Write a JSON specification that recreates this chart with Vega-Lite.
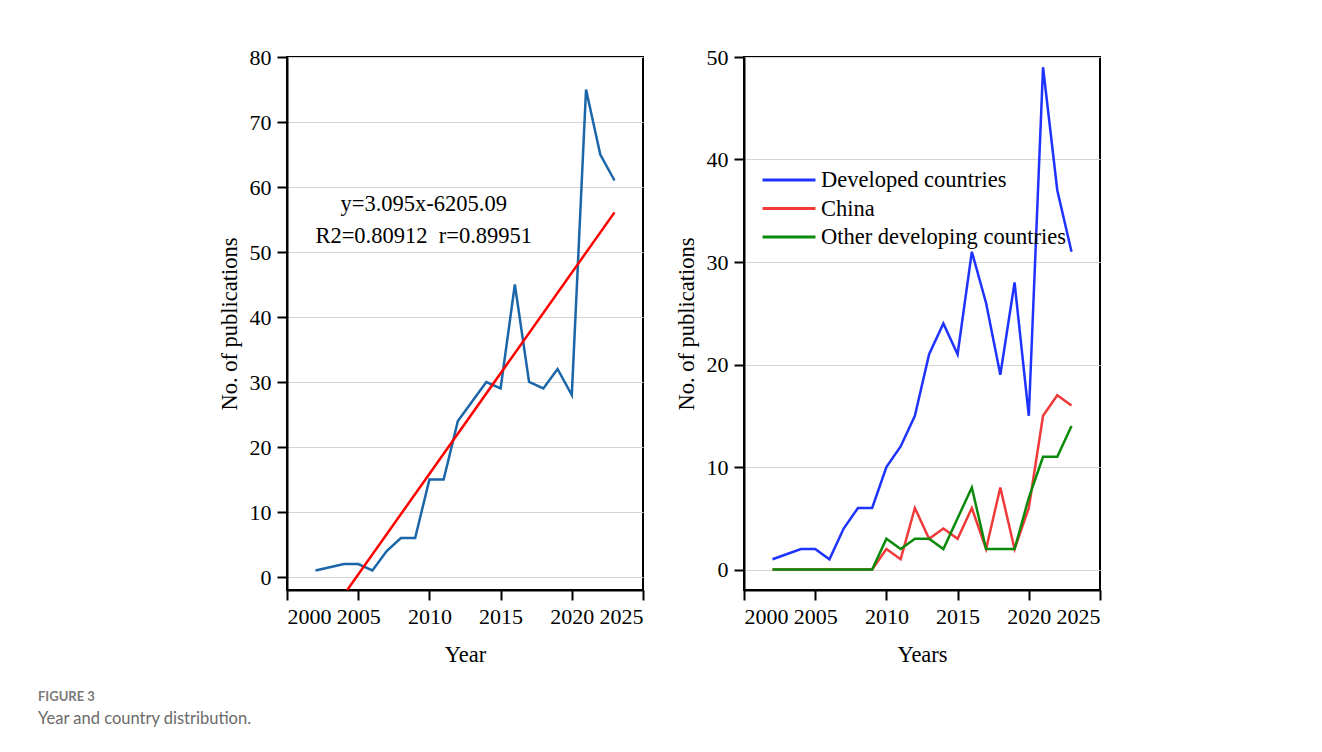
{
  "$schema": "https://vega.github.io/schema/vega-lite/v6.json",
  "background": "white",
  "padding": {"left": 38, "top": 45, "right": 0, "bottom": 0},
  "datasets": {
    "total": [
      {"year": 2002, "n": 1}, {"year": 2004, "n": 2}, {"year": 2005, "n": 2}, {"year": 2006, "n": 1},
      {"year": 2007, "n": 4}, {"year": 2008, "n": 6}, {"year": 2009, "n": 6}, {"year": 2010, "n": 15},
      {"year": 2011, "n": 15}, {"year": 2012, "n": 24}, {"year": 2013, "n": 27}, {"year": 2014, "n": 30},
      {"year": 2015, "n": 29}, {"year": 2016, "n": 45}, {"year": 2017, "n": 30}, {"year": 2018, "n": 29},
      {"year": 2019, "n": 32}, {"year": 2020, "n": 28}, {"year": 2021, "n": 75}, {"year": 2022, "n": 65},
      {"year": 2023, "n": 61}
    ],
    "fit": [
      {"year": 2002, "n": -8.9}, {"year": 2023, "n": 56.1}
    ],
    "eq": [
      {"year": 2009.6, "n": 56.3, "label": "y=3.095x-6205.09"},
      {"year": 2009.6, "n": 51.4, "label": "R2=0.80912\u00a0\u00a0r=0.89951"}
    ],
    "groups": [
      {"year": 2002, "n": 1, "g": "Developed countries"}, {"year": 2004, "n": 2, "g": "Developed countries"},
      {"year": 2005, "n": 2, "g": "Developed countries"}, {"year": 2006, "n": 1, "g": "Developed countries"},
      {"year": 2007, "n": 4, "g": "Developed countries"}, {"year": 2008, "n": 6, "g": "Developed countries"},
      {"year": 2009, "n": 6, "g": "Developed countries"}, {"year": 2010, "n": 10, "g": "Developed countries"},
      {"year": 2011, "n": 12, "g": "Developed countries"}, {"year": 2012, "n": 15, "g": "Developed countries"},
      {"year": 2013, "n": 21, "g": "Developed countries"}, {"year": 2014, "n": 24, "g": "Developed countries"},
      {"year": 2015, "n": 21, "g": "Developed countries"}, {"year": 2016, "n": 31, "g": "Developed countries"},
      {"year": 2017, "n": 26, "g": "Developed countries"}, {"year": 2018, "n": 19, "g": "Developed countries"},
      {"year": 2019, "n": 28, "g": "Developed countries"}, {"year": 2020, "n": 15, "g": "Developed countries"},
      {"year": 2021, "n": 49, "g": "Developed countries"}, {"year": 2022, "n": 37, "g": "Developed countries"},
      {"year": 2023, "n": 31, "g": "Developed countries"},
      {"year": 2002, "n": 0, "g": "China"}, {"year": 2009, "n": 0, "g": "China"},
      {"year": 2010, "n": 2, "g": "China"}, {"year": 2011, "n": 1, "g": "China"},
      {"year": 2012, "n": 6, "g": "China"}, {"year": 2013, "n": 3, "g": "China"},
      {"year": 2014, "n": 4, "g": "China"}, {"year": 2015, "n": 3, "g": "China"},
      {"year": 2016, "n": 6, "g": "China"}, {"year": 2017, "n": 2, "g": "China"},
      {"year": 2018, "n": 8, "g": "China"}, {"year": 2019, "n": 2, "g": "China"},
      {"year": 2020, "n": 6, "g": "China"}, {"year": 2021, "n": 15, "g": "China"},
      {"year": 2022, "n": 17, "g": "China"}, {"year": 2023, "n": 16, "g": "China"},
      {"year": 2002, "n": 0, "g": "Other developing countries"}, {"year": 2009, "n": 0, "g": "Other developing countries"},
      {"year": 2010, "n": 3, "g": "Other developing countries"}, {"year": 2011, "n": 2, "g": "Other developing countries"},
      {"year": 2012, "n": 3, "g": "Other developing countries"}, {"year": 2013, "n": 3, "g": "Other developing countries"},
      {"year": 2014, "n": 2, "g": "Other developing countries"}, {"year": 2015, "n": 5, "g": "Other developing countries"},
      {"year": 2016, "n": 8, "g": "Other developing countries"}, {"year": 2017, "n": 2, "g": "Other developing countries"},
      {"year": 2018, "n": 2, "g": "Other developing countries"}, {"year": 2019, "n": 2, "g": "Other developing countries"},
      {"year": 2020, "n": 7, "g": "Other developing countries"}, {"year": 2021, "n": 11, "g": "Other developing countries"},
      {"year": 2022, "n": 11, "g": "Other developing countries"}, {"year": 2023, "n": 14, "g": "Other developing countries"}
    ]
  },
  "title": {
    "text": "FIGURE 3",
    "subtitle": "Year and country distribution.",
    "orient": "bottom",
    "anchor": "start",
    "frame": "bounds",
    "dx": -179,
    "offset": 24,
    "font": "Lato",
    "fontSize": 13,
    "fontWeight": "bold",
    "color": "#7a7a7a",
    "subtitleFont": "Lato",
    "subtitleFontSize": 16.5,
    "subtitleColor": "#6a6a6a",
    "subtitlePadding": 7
  },
  "spacing": 29,
  "resolve": {"legend": {"color": "independent"}},
  "hconcat": [
    {
      "width": 356,
      "height": 533,
      "layer": [
        {
          "data": {"name": "total"},
          "mark": {"type": "line", "color": "#1a66a8", "strokeWidth": 2.5},
          "encoding": {
            "x": {"field": "year", "type": "quantitative", "scale": {"domain": [2000, 2025], "nice": false},
                  "axis": {"values": [2000, 2005, 2010, 2015, 2020, 2025], "format": "d", "grid": false, "title": "Year", "titlePadding": 16}},
            "y": {"field": "n", "type": "quantitative", "scale": {"domain": [-2, 80], "nice": false, "zero": false},
                  "axis": {"values": [0, 10, 20, 30, 40, 50, 60, 70, 80], "grid": true, "title": "No. of publications", "titlePadding": 8}}
          }
        },
        {
          "data": {"name": "fit"},
          "mark": {"type": "line", "color": "#ff0000", "strokeWidth": 2.5, "clip": true},
          "encoding": {
            "x": {"field": "year", "type": "quantitative"},
            "y": {"field": "n", "type": "quantitative"}
          }
        },
        {
          "data": {"name": "eq"},
          "mark": {"type": "text", "font": "Liberation Serif", "fontSize": 22.5, "align": "center", "baseline": "alphabetic", "color": "#000"},
          "encoding": {
            "x": {"field": "year", "type": "quantitative"},
            "y": {"field": "n", "type": "quantitative"},
            "text": {"field": "label"}
          }
        }
      ]
    },
    {
      "width": 356,
      "height": 533,
      "data": {"name": "groups"},
      "mark": {"type": "line", "strokeWidth": 2.5},
      "encoding": {
        "x": {"field": "year", "type": "quantitative", "scale": {"domain": [2000, 2025], "nice": false},
              "axis": {"values": [2000, 2005, 2010, 2015, 2020, 2025], "format": "d", "grid": false, "title": "Years", "titlePadding": 16}},
        "y": {"field": "n", "type": "quantitative", "scale": {"domain": [-2, 50], "nice": false, "zero": false},
              "axis": {"values": [0, 10, 20, 30, 40, 50], "grid": true, "title": "No. of publications", "titlePadding": 8}},
        "color": {
          "field": "g", "type": "nominal",
          "scale": {"domain": ["Developed countries", "China", "Other developing countries"], "range": ["#1f33ff", "#f03a3a", "#0a8a0a"]},
          "legend": {
            "title": null, "orient": "none", "legendX": 30, "legendY": 108,
            "symbolType": "M-2,0L2,0", "symbolSize": 702, "symbolStrokeWidth": 3,
            "labelFont": "Liberation Serif", "labelFontSize": 22.5, "labelColor": "#000", "labelOffset": 17,
            "labelLimit": 400, "rowPadding": 1.5
          }
        }
      }
    }
  ],
  "config": {
    "view": {"stroke": "#000", "strokeWidth": 2},
    "axis": {
      "labelFont": "Liberation Serif", "labelFontSize": 22, "labelColor": "#000",
      "titleFont": "Liberation Serif", "titleFontSize": 22.5, "titleFontWeight": "normal", "titleColor": "#000",
      "domainColor": "#000", "domainWidth": 2, "tickColor": "#000", "tickWidth": 2, "tickSize": 10,
      "labelPadding": 6, "gridColor": "#d4d4d4", "gridWidth": 1
    }
  }
}
